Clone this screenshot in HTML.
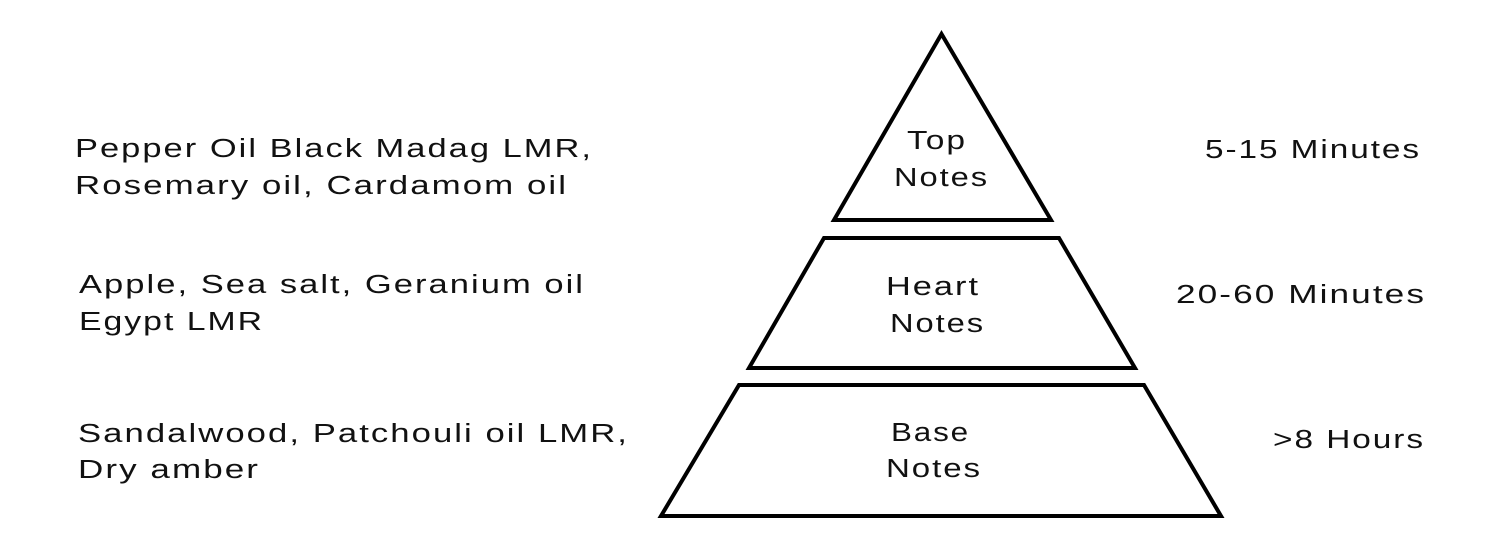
<!DOCTYPE html>
<html><head><meta charset="utf-8"><style>html,body{margin:0;padding:0;background:#fff}svg{display:block}</style></head><body>
<svg width="1500" height="550" viewBox="0 0 1500 550" xmlns="http://www.w3.org/2000/svg" font-family="Liberation Sans, sans-serif" font-size="25.5" fill="#111" letter-spacing="1.5">
<g fill="none" stroke="#000" stroke-width="4" stroke-linejoin="miter">
<polygon points="941.5,34 834,220 1051,220"/>
<polygon points="824,238 1059,238 1135,368 749,368"/>
<polygon points="739,385 1144,385 1221,516 661,516"/>
</g>
<g>
<text x="75" y="157" textLength="518" lengthAdjust="spacingAndGlyphs">Pepper Oil Black Madag LMR,</text>
<text x="75" y="194" textLength="493" lengthAdjust="spacingAndGlyphs">Rosemary oil, Cardamom oil</text>
<text x="79" y="293" textLength="506" lengthAdjust="spacingAndGlyphs">Apple, Sea salt, Geranium oil</text>
<text x="79" y="330" textLength="185" lengthAdjust="spacingAndGlyphs">Egypt LMR</text>
<text x="78" y="442" textLength="551" lengthAdjust="spacingAndGlyphs">Sandalwood, Patchouli oil LMR,</text>
<text x="78" y="478" textLength="182" lengthAdjust="spacingAndGlyphs">Dry amber</text>
<text x="1205" y="158" textLength="216" lengthAdjust="spacingAndGlyphs">5-15 Minutes</text>
<text x="1176" y="303" textLength="250" lengthAdjust="spacingAndGlyphs">20-60 Minutes</text>
<text x="1273" y="448" textLength="152" lengthAdjust="spacingAndGlyphs">&gt;8 Hours</text>
<text x="907" y="149" textLength="60" lengthAdjust="spacingAndGlyphs">Top</text>
<text x="894" y="186" textLength="95" lengthAdjust="spacingAndGlyphs">Notes</text>
<text x="886" y="295" textLength="94" lengthAdjust="spacingAndGlyphs">Heart</text>
<text x="890" y="332" textLength="95" lengthAdjust="spacingAndGlyphs">Notes</text>
<text x="891" y="441" textLength="79" lengthAdjust="spacingAndGlyphs">Base</text>
<text x="886" y="477" textLength="96" lengthAdjust="spacingAndGlyphs">Notes</text>
</g>
</svg>
</body></html>
